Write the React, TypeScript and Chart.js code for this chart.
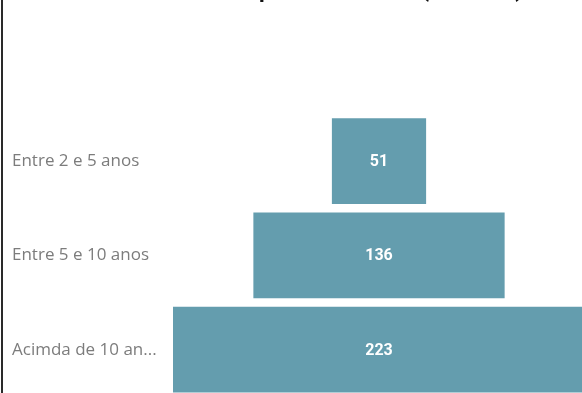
import React, { useEffect, useRef } from "react";
import { Chart, registerables } from "chart.js";

Chart.register(...registerables);

const categories = ["Entre 2 e 5 anos", "Entre 5 e 10 anos", "Acimda de 10 anos"];
const tickLabels = ["Entre 2 e 5 anos", "Entre 5 e 10 anos", "Acimda de 10 an..."];
const values = [51, 136, 223];
const titleText = "Tempo de Atividade (em anos)";
const barColor = "#649DAE";

export default function App() {
  const ref = useRef<HTMLCanvasElement | null>(null);

  useEffect(() => {
    document.body.style.margin = "0";
    const canvas = ref.current;
    if (!canvas) return;

    const valueLabels = {
      id: "valueLabels",
      afterDatasetsDraw(chart: any) {
        const ctx = chart.ctx;
        const meta = chart.getDatasetMeta(0);
        ctx.save();
        ctx.fillStyle = "#ffffff";
        ctx.font = "bold 16px Roboto";
        ctx.textAlign = "center";
        ctx.textBaseline = "middle";
        meta.data.forEach((el: any, i: number) => {
          const cx = (el.x + el.base) / 2;
          ctx.fillText(String(values[i]), cx, el.y + 1);
        });
        ctx.restore();
      },
    };

    const topTitle = {
      id: "topTitle",
      afterDraw(chart: any) {
        const ctx = chart.ctx;
        ctx.save();
        ctx.fillStyle = "#111111";
        ctx.font = "bold 22.5px Roboto";
        ctx.textAlign = "left";
        ctx.textBaseline = "alphabetic";
        const start = 259 - ctx.measureText("Tem").width;
        ctx.fillText(titleText, start, -3.5);
        ctx.restore();
      },
    };

    const chart = new Chart(canvas, {
      type: "bar",
      data: {
        labels: categories,
        datasets: [
          {
            data: values.map((v) => [-v / 2, v / 2]) as any,
            backgroundColor: barColor,
            borderWidth: 0,
            barPercentage: 0.91,
            categoryPercentage: 1.0,
          },
        ],
      },
      options: {
        indexAxis: "y",
        animation: false,
        responsive: false,
        maintainAspectRatio: false,
        layout: { padding: { left: 12, top: 114, right: 15, bottom: 7 } },
        plugins: {
          legend: { display: false },
          tooltip: { enabled: false },
          title: { display: false },
        },
        scales: {
          x: {
            display: false,
            min: -111.5,
            max: 111.5,
          },
          y: {
            grid: { display: false },
            border: { display: false },
            ticks: {
              crossAlign: "far",
              color: "#7c7c7c",
              font: { family: "Open Sans", size: 17 },
              callback: (_v: any, i: number) => tickLabels[i],
            },
            afterFit: (scale: any) => {
              scale.width = 173 - 12;
            },
          },
        },
      },
      plugins: [valueLabels, topTitle],
    });

    return () => chart.destroy();
  }, []);

  return (
    <div
      style={{
        position: "fixed",
        left: 0,
        top: 0,
        width: 582,
        height: 393,
        overflow: "hidden",
        background: "#ffffff",
      }}
    >
      <canvas
        ref={ref}
        width={600}
        height={410}
        style={{ position: "absolute", left: 0, top: 0, width: 600, height: 410 }}
      />
      <div
        style={{
          position: "absolute",
          left: 1,
          top: 0,
          width: 2,
          height: 393,
          background: "#2a2a2a",
        }}
      />
    </div>
  );
}
